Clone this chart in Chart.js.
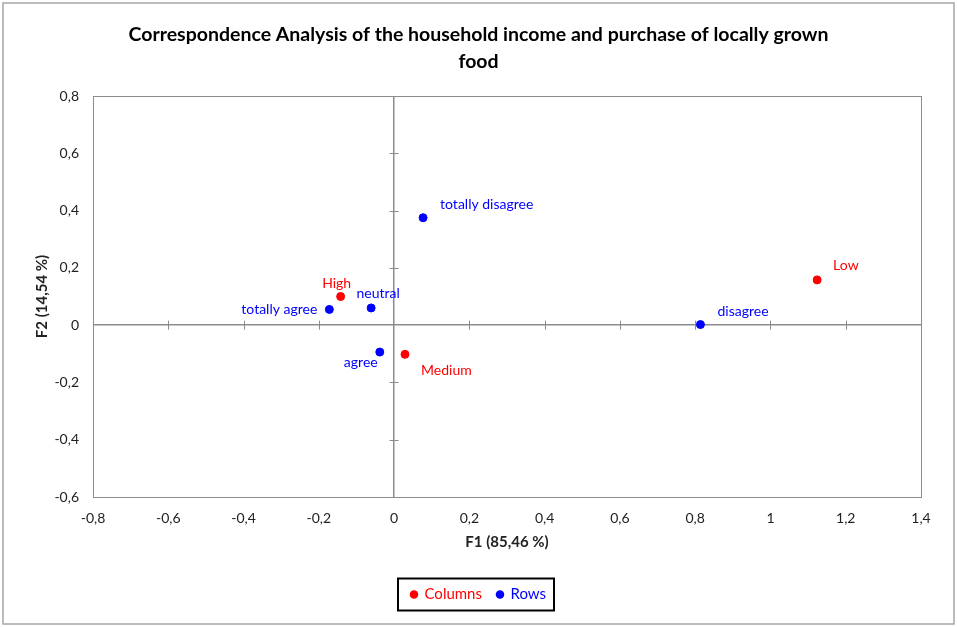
<!DOCTYPE html>
<html lang="en">
<head>
<meta charset="UTF-8">
<title>Correspondence Analysis</title>
<script src="https://cdn.jsdelivr.net/npm/chart.js"></script>
<style>
    body { margin: 0; background: #ffffff; }
    #wrap { width: 957px; height: 627px; position: relative; }
</style>
</head>
<body>
<div id="wrap"><canvas id="grafico"></canvas></div>
<script>
// values
const columnLabels = ['High', 'Medium', 'Low'];
const columnF1 = [-0.142, 0.029, 1.124];
const columnF2 = [0.100, -0.102, 0.158];

const rowLabels = ['totally agree', 'agree', 'neutral', 'disagree', 'totally disagree'];
const rowF1 = [-0.172, -0.038, -0.061, 0.814, 0.077];
const rowF2 = [0.055, -0.094, 0.060, 0.002, 0.375];

const xRange = [-0.8, 1.4];
const yRange = [-0.6, 0.8];
const tickStep = 0.2;

const titleLines = ['Correspondence Analysis of the household income and purchase of locally grown', 'food'];
const xTitle = 'F1 (85,46 %)';
const yTitle = 'F2 (14,54 %)';

// where each point label sits relative to its dot: [dx, dy, align]
const labelPlacement = {
    'High': [-4, -13, 'center'],
    'Medium': [16, 16, 'left'],
    'Low': [16, -14, 'left'],
    'totally agree': [-12, 0, 'right'],
    'agree': [-19, 10, 'center'],
    'neutral': [7, -14, 'center'],
    'disagree': [17, -13, 'left'],
    'totally disagree': [17, -13, 'left']
};

const RED = '#ff0000';
const BLUE = '#0000ff';
const GREY = '#8c8c8c';
const FONT = 'Lato, "Open Sans", sans-serif';

function fmt(v) {
    return String(Number(v.toFixed(1))).replace('.', ',');
}

const decor = {
    id: 'decor',
    beforeDraw(chart) {
        const ctx = chart.ctx;
        ctx.save();
        ctx.fillStyle = '#ffffff';
        ctx.fillRect(0, 0, chart.width, chart.height);
        ctx.strokeStyle = '#a6a6a6';
        ctx.lineWidth = 1.5;
        ctx.strokeRect(3, 3, chart.width - 6, chart.height - 6);
        ctx.restore();
    },
    beforeDatasetsDraw(chart) {
        const ctx = chart.ctx;
        const sx = chart.scales.x, sy = chart.scales.y;
        const x0 = sx.getPixelForValue(0), y0 = sy.getPixelForValue(0);
        const a = chart.chartArea;
        ctx.save();
        ctx.strokeStyle = GREY;
        ctx.lineWidth = 1;
        ctx.beginPath();
        sx.ticks.forEach(t => {
            if (Math.abs(t.value) < 1e-9) return;
            const px = Math.round(sx.getPixelForValue(t.value)) + 0.5;
            ctx.moveTo(px, y0 - 4.5); ctx.lineTo(px, y0 + 4.5);
        });
        sy.ticks.forEach(t => {
            if (Math.abs(t.value) < 1e-9) return;
            const py = Math.round(sy.getPixelForValue(t.value)) + 0.5;
            ctx.moveTo(x0 - 4.5, py); ctx.lineTo(x0 + 4.5, py);
        });
        ctx.stroke();
        ctx.strokeRect(Math.round(a.left) + 0.5, Math.round(a.top) + 0.5, Math.round(a.width), Math.round(a.height));
        ctx.restore();
    },
    afterDatasetsDraw(chart) {
        const ctx = chart.ctx;
        ctx.save();
        ctx.font = '14px ' + FONT;
        ctx.textBaseline = 'middle';
        chart.data.datasets.forEach((ds, di) => {
            const meta = chart.getDatasetMeta(di);
            ctx.fillStyle = ds.backgroundColor;
            meta.data.forEach((pt, i) => {
                const name = ds.pointLabels[i];
                const p = labelPlacement[name] || [8, -12, 'left'];
                ctx.textAlign = p[2];
                ctx.fillText(name, pt.x + p[0], pt.y + p[1]);
            });
        });
        ctx.restore();
    },
    afterDraw(chart) {
        const lg = chart.legend;
        if (!lg || !lg.legendHitBoxes.length) return;
        const boxes = lg.legendHitBoxes;
        const left = boxes[0].left - 13;
        const right = boxes[boxes.length - 1].left + boxes[boxes.length - 1].width + 8;
        const cy = boxes[0].top + boxes[0].height / 2;
        const ctx = chart.ctx;
        ctx.save();
        ctx.strokeStyle = '#000000';
        ctx.lineWidth = 2;
        ctx.strokeRect(left, cy - 16, right - left, 32);
        ctx.restore();
    }
};

const ctx = document.getElementById('grafico').getContext('2d');
window.miGrafico = new Chart(ctx, {
    type: 'scatter',
    data: {
        datasets: [
            {
                label: 'Columns',
                data: columnF1.map((x, i) => ({ x: x, y: columnF2[i] })),
                pointLabels: columnLabels,
                backgroundColor: RED,
                borderColor: RED,
                pointRadius: 4,
                pointStyle: 'circle'
            },
            {
                label: 'Rows',
                data: rowF1.map((x, i) => ({ x: x, y: rowF2[i] })),
                pointLabels: rowLabels,
                backgroundColor: BLUE,
                borderColor: BLUE,
                pointRadius: 4,
                pointStyle: 'circle'
            }
        ]
    },
    options: {
        responsive: true,
        maintainAspectRatio: false,
        animation: false,
        layout: { padding: { left: 36, right: 36, top: 0, bottom: 15 } },
        plugins: {
            tooltip: { enabled: false },
            title: {
                display: true,
                text: titleLines,
                color: '#000000',
                font: { family: FONT, size: 19.5, weight: 'bold', lineHeight: 1.385 },
                padding: { top: 21.5, bottom: 20.5 }
            },
            legend: {
                position: 'bottom',
                labels: {
                    usePointStyle: true,
                    boxWidth: 6,
                    boxHeight: 6,
                    padding: 15,
                    font: { family: FONT, size: 15 },
                    generateLabels(chart) {
                        return chart.data.datasets.map((ds, i) => ({
                            text: ds.label,
                            fillStyle: ds.backgroundColor,
                            strokeStyle: ds.borderColor,
                            fontColor: ds.backgroundColor,
                            pointStyle: 'circle',
                            lineWidth: 0,
                            hidden: false,
                            datasetIndex: i
                        }));
                    }
                }
            }
        },
        scales: {
            x: {
                type: 'linear',
                min: xRange[0],
                max: xRange[1],
                afterFit(scale) { scale.height = 75; },
                ticks: {
                    stepSize: tickStep,
                    padding: 13,
                    color: '#222222',
                    font: { family: FONT, size: 14 },
                    callback: v => fmt(v)
                },
                grid: {
                    drawTicks: false,
                    color: c => (Math.abs(c.tick.value) < 1e-9 ? GREY : 'rgba(0,0,0,0)'),
                    lineWidth: 1.5
                },
                border: { display: false },
                title: {
                    display: true,
                    text: xTitle,
                    color: '#222222',
                    font: { family: FONT, size: 15, weight: 'bold', lineHeight: 1.2 },
                    padding: { top: 0, bottom: 20.5 }
                }
            },
            y: {
                type: 'linear',
                min: yRange[0],
                max: yRange[1],
                afterFit(scale) { scale.width = 57; },
                ticks: {
                    stepSize: tickStep,
                    padding: 14,
                    color: '#222222',
                    font: { family: FONT, size: 14 },
                    callback: v => fmt(v)
                },
                grid: {
                    drawTicks: false,
                    color: c => (Math.abs(c.tick.value) < 1e-9 ? GREY : 'rgba(0,0,0,0)'),
                    lineWidth: 1.5
                },
                border: { display: false },
                title: {
                    display: true,
                    text: yTitle,
                    color: '#222222',
                    font: { family: FONT, size: 15, weight: 'bold', lineHeight: 0.8 },
                    padding: { top: 0, bottom: 0 }
                }
            }
        }
    },
    plugins: [decor]
});
</script>
</body>
</html>
